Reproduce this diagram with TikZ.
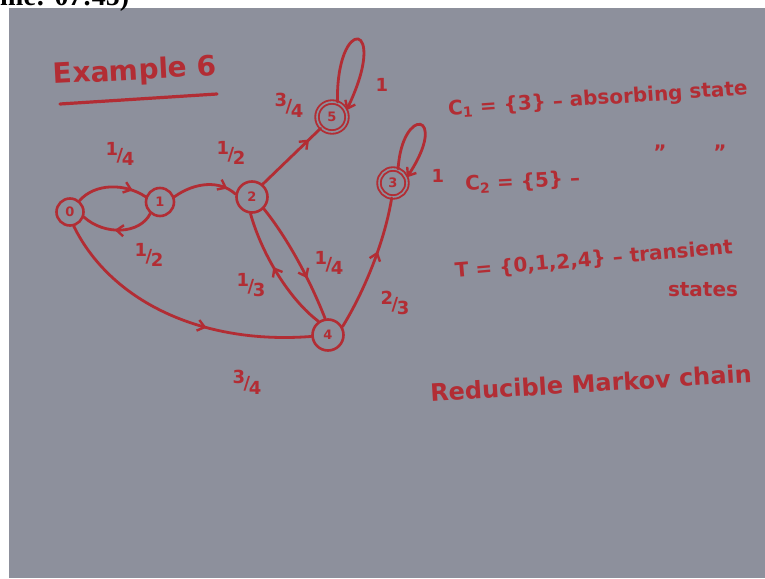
\documentclass[tikz,border=0pt]{standalone}
\usepackage{fontspec}
\setmainfont{DejaVu Sans}
\newfontfamily\capfont{Liberation Serif}
\usetikzlibrary{arrows.meta,decorations.markings}
\definecolor{board}{RGB}{141,144,156}
\definecolor{ink}{RGB}{178,45,52}
\newcommand{\pfrac}[2]{\raisebox{0.35em}{#1}\kern-0.08em/\kern-0.08em\raisebox{-0.25em}{#2}}
\tikzset{
  inkline/.style={draw=ink, line width=2.8pt, line cap=round},
  state/.style={circle, draw=ink, line width=2.6pt, minimum size=28pt, inner sep=0pt, text=ink, font=\bfseries\fontsize{13}{13}\selectfont},
  absorbing/.style={state, line width=1.9pt, double=board, double distance=1.6pt},
  midarrow/.style={postaction={decorate, decoration={markings, mark=at position #1 with {\arrow[ink]{Straight Barb[length=7pt,width=11pt,line width=2.4pt]}}}}},
  looparrow/.style={-{Straight Barb[length=7pt,width=11pt,line width=2.4pt]}},
  lbl/.style={text=ink, inner sep=0pt, font=\bfseries\fontsize{18}{18}\selectfont},
  note/.style={text=ink, inner sep=0pt, font=\bfseries\fontsize{20}{20}\selectfont},
}
\begin{document}
\begin{tikzpicture}[x=1pt,y=-1pt]
\useasboundingbox (0,0) rectangle (765,578);
\fill[white] (0,0) rectangle (765,578);
\fill[board] (9,8) rectangle (765,578);
\node[anchor=base west, inner sep=0pt, font=\capfont\bfseries\fontsize{28}{28}\selectfont] (cap) at (0,6) {me: 07:45)};

% title
\node[note, rotate=3, font=\bfseries\fontsize{28}{28}\selectfont] (ex) at (135,72) {Example 6};
\draw[inkline, line width=3.2pt] (60,104) -- (217,94);

% states
\node[state, minimum size=27pt] (n0) at (70,212) {0};
\node[state] (n1) at (160,202) {1};
\node[state, minimum size=31pt] (n2) at (252,197) {2};
\node[absorbing, minimum size=30pt] (n5) at (332,117) {5};
\node[absorbing, minimum size=28pt] (n3) at (393,183) {3};
\node[state, minimum size=31pt] (n4) at (328,335) {4};

% transitions
\draw[inkline, midarrow=0.8] (n0.50) .. controls (95,183) and (125,183) .. (n1.160);
\draw[inkline, midarrow=0.55] (n1.-130) .. controls (140,234) and (105,236) .. (n0.-20);
\draw[inkline, midarrow=0.85] (n1.20) .. controls (195,182) and (220,180) .. (n2.170);
\draw[inkline, midarrow=0.8] (n2.50) -- (n5.-135);
\draw[inkline, midarrow=0.65] (n2.-45) .. controls (285,235) and (308,275) .. (n4.100);
\draw[inkline, midarrow=0.55] (n4.125) .. controls (290,300) and (262,255) .. (n2.-95);
\draw[inkline, midarrow=0.6] (n4.30) .. controls (365,290) and (385,240) .. (n3.-95);
\draw[inkline, midarrow=0.62] (n0.-75) .. controls (110,300) and (200,345) .. (n4.185);
\draw[inkline, looparrow] (n5.70) .. controls (336,14) and (390,20) .. (n5.25);
\draw[inkline, looparrow] (n3.70) .. controls (402,105) and (450,112) .. (n3.22);

% labels
\node[lbl] (l01) at (120,154) {\pfrac14};
\node[lbl] (l10) at (149,255) {\pfrac12};
\node[lbl] (l12) at (231,153) {\pfrac12};
\node[lbl] (l25) at (289,105) {\pfrac34};
\node[lbl] (l24) at (329,263) {\pfrac14};
\node[lbl] (l42) at (251,285) {\pfrac13};
\node[lbl] (l43) at (395,303) {\pfrac23};
\node[lbl] (l04) at (247,382) {\pfrac34};
\node[lbl] (l55) at (382,85) {1};
\node[lbl] (l33) at (438,176) {1};

% notes
\node[note, anchor=west, rotate=4] (c1) at (448,110) {C\textsubscript{1} = \{3\} -- absorbing state};
\node[note, anchor=west, rotate=3] (c2) at (465,185) {C\textsubscript{2} = \{5\} --};
\node[note] (d1) at (660,152) {"};
\node[note] (d2) at (720,152) {"};
\node[note, anchor=west, rotate=5] (tt) at (455,272) {T = \{0,1,2,4\} -- transient};
\node[note] (st) at (703,290) {states};
\node[note, anchor=west, rotate=3.5, font=\bfseries\fontsize{24}{24}\selectfont] (rm) at (430,393) {Reducible Markov chain};
\end{tikzpicture}
\end{document}
